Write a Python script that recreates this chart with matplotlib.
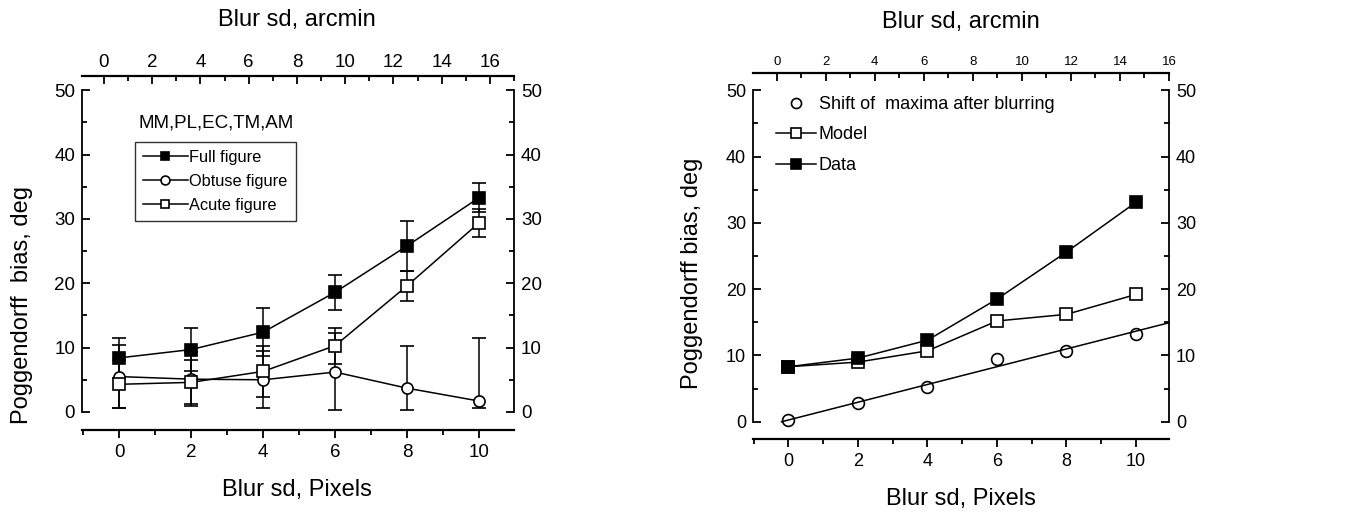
import matplotlib.pyplot as plt
from matplotlib.ticker import MultipleLocator

plt.rcParams['font.family'] = ['Liberation Sans', 'DejaVu Sans']

# left panel data (Blur sd in pixels)
blur_px = [0, 2, 4, 6, 8, 10]
full_fig = [8.4, 9.7, 12.4, 18.6, 25.8, 33.3]
full_err = [3.1, 3.3, 3.7, 2.7, 3.9, 2.2]
obtuse_fig = [5.5, 5.1, 5.0, 6.2, 3.7, 1.7]
obtuse_err_lo = [4.9, 4.2, 4.4, 5.9, 3.4, 1.1]
obtuse_err_hi = [4.9, 4.2, 4.4, 6.1, 6.5, 9.8]
acute_fig = [4.3, 4.6, 6.3, 10.3, 19.6, 29.4]
acute_err = [3.7, 3.4, 4.0, 2.8, 2.3, 2.2]

# right panel data
model = [8.3, 9.0, 10.7, 15.2, 16.2, 19.2]
data = [8.3, 9.6, 12.3, 18.5, 25.6, 33.1]
shift_max = [0.25, 2.8, 5.3, 9.5, 10.6, 13.2]
shift_fit_x = [-0.2, 11]
shift_fit_y = [0, 15]

W, H = 1346, 529
fig = plt.figure(figsize=(W / 100, H / 100), dpi=100)


def px_axes(l, t, r, b):
    return fig.add_axes([l / W, 1 - b / H, (r - l) / W, (b - t) / H])


def style_axes(ax, top_lim, top_size, lab_size, rpad):
    for s in ['left', 'right']:
        ax.spines[s].set_bounds(0, 50)
        ax.spines[s].set_linewidth(1.3)
    ax.spines['bottom'].set_linewidth(1.6)
    ax.spines['top'].set_visible(False)
    ax.xaxis.set_major_locator(MultipleLocator(2))
    ax.xaxis.set_minor_locator(MultipleLocator(1))
    ax.yaxis.set_major_locator(MultipleLocator(10))
    ax.yaxis.set_minor_locator(MultipleLocator(5))
    ax.tick_params(axis='x', which='both', direction='out', width=1.3, labelsize=lab_size)
    ax.tick_params(axis='x', which='major', length=6, pad=4)
    ax.tick_params(axis='x', which='minor', length=3.5)
    ax.tick_params(axis='y', which='both', direction='in', left=True, right=True,
                   labelleft=True, labelright=True, width=1.3, labelsize=lab_size)
    ax.tick_params(axis='y', which='major', length=6, pad=5)
    ax.tick_params(axis='y', which='minor', length=3.5)
    ax.yaxis.set_tick_params(which='major', labelright=True)
    for t in ax.yaxis.get_major_ticks():
        t.label2.set_x(1 + rpad / (ax.get_position().width * W))
    ax.set_yticks([0, 10, 20, 30, 40, 50])

    top = ax.twiny()
    for s in ['left', 'right', 'bottom']:
        top.spines[s].set_visible(False)
    top.spines['top'].set_linewidth(1.6)
    top.set_xlim(*top_lim)
    top.xaxis.set_major_locator(MultipleLocator(2))
    top.xaxis.set_minor_locator(MultipleLocator(1))
    top.tick_params(axis='x', which='both', direction='in', width=1.3, labelsize=top_size)
    top.tick_params(axis='x', which='major', length=6)
    top.tick_params(axis='x', which='minor', length=3.5)
    top.set_xticks(range(0, 17, 2))
    return top


# ---- left panel ----
ax1 = px_axes(82, 76, 514, 430)
ax1.set_xlim(-1.03, 10.97)
ax1.set_ylim(-2.8, 52.2)
style_axes(ax1, (-0.91, 17.0), 13.5, 13.5, 0)
ax1.tick_params(axis='y', which='major', pad=5)
ax1.yaxis.set_tick_params(which='major', pad=5)

ek = dict(color='black', lw=1.1, capsize=5, elinewidth=1.1, capthick=1.1, ms=8, mew=1.2)
ax1.errorbar(blur_px, full_fig, yerr=full_err, marker='s', mfc='black', mec='black',
             label='Full figure', **ek)
ax1.errorbar(blur_px, obtuse_fig, yerr=[obtuse_err_lo, obtuse_err_hi], marker='o',
             mfc='white', mec='black', label='Obtuse figure', **ek)
ax1.errorbar(blur_px, acute_fig, yerr=acute_err, marker='s', mfc='white', mec='black',
             label='Acute figure', **ek)

h, l = ax1.get_legend_handles_labels()
h = [x[0] for x in h]
leg = ax1.legend(h, l, loc='upper left', bbox_to_anchor=(0.123, 0.814), fontsize=11.8,
                 frameon=True, fancybox=False, edgecolor='black', handlelength=2.7,
                 handletextpad=0.1, labelspacing=0.55, borderpad=0.5, borderaxespad=0,
                 markerscale=0.8)
leg.get_frame().set_linewidth(1.0)
ax1.text(0.13, 0.867, 'MM,PL,EC,TM,AM', transform=ax1.transAxes, fontsize=13.5,
         va='center', ha='left')

fig.text(297 / W, 1 - 20 / H, 'Blur sd, arcmin', fontsize=17, ha='center', va='center')
fig.text(297 / W, 1 - 490 / H, 'Blur sd, Pixels', fontsize=17, ha='center', va='center')
fig.text(22 / W, 1 - 305 / H, 'Poggendorff  bias, deg', fontsize=17, ha='center',
         va='center', rotation=90)

# ---- right panel ----
ax2 = px_axes(753, 73, 1169, 439)
ax2.set_xlim(-1.02, 10.95)
ax2.set_ylim(-2.6, 52.6)
style_axes(ax2, (-0.97, 16.0), 9.5, 13, 0)

mk = dict(color='black', lw=1.1, ms=8.5, mew=1.2)
ax2.plot(blur_px, shift_max, ls='none', marker='o', mfc='white', mec='black', ms=8.5,
         mew=1.2, label='Shift of  maxima after blurring')
ax2.plot(shift_fit_x, shift_fit_y, color='black', lw=1.1)
ax2.plot(blur_px, model, marker='s', mfc='white', mec='black', label='Model', **mk)
ax2.plot(blur_px, data, marker='s', mfc='black', mec='black', label='Data', **mk)

leg2 = ax2.legend(loc='upper left', bbox_to_anchor=(0.03, 0.967), fontsize=13,
                  frameon=False, handlelength=2.2, handletextpad=0.15,
                  labelspacing=0.75, borderaxespad=0.2, markerscale=0.85)

fig.text(961 / W, 1 - 22 / H, 'Blur sd, arcmin', fontsize=17, ha='center', va='center')
fig.text(961 / W, 1 - 499 / H, 'Blur sd, Pixels', fontsize=17, ha='center', va='center')
fig.text(692 / W, 1 - 273 / H, 'Poggendorff bias, deg', fontsize=17, ha='center',
         va='center', rotation=90)

fig.savefig('out.png', dpi=100)
